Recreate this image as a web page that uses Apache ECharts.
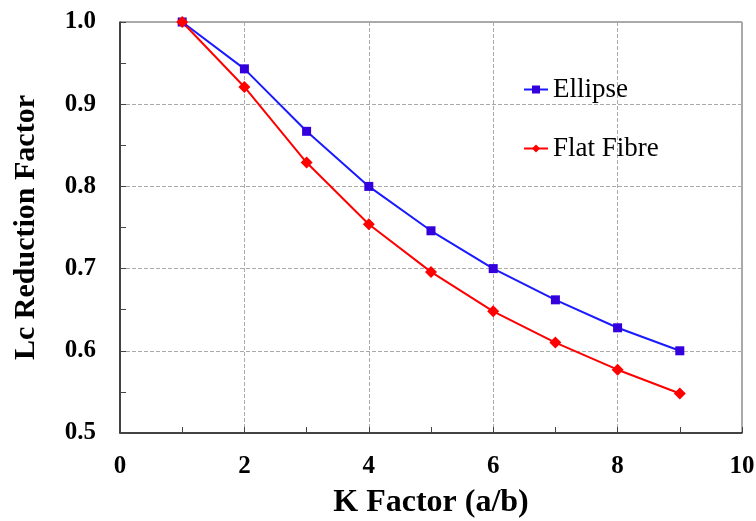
<!DOCTYPE html>
<html>
<head>
<meta charset="utf-8">
<script src="https://cdn.jsdelivr.net/npm/echarts@6/dist/echarts.min.js"></script>
<style>
  html, body { margin: 0; padding: 0; background: #fff; }
  #chart { width: 756px; height: 521px; }
</style>
</head>
<body>
<div id="chart"></div>
<script>
// data
let kFactor = [1, 2, 3, 4, 5, 6, 7, 8, 9];
let ellipse = [1.0, 0.943, 0.867, 0.800, 0.746, 0.700, 0.662, 0.628, 0.600];
let flatFibre = [1.0, 0.921, 0.829, 0.754, 0.696, 0.648, 0.610, 0.577, 0.548];

let font = 'Liberation Serif';

function pairs(xs, ys) {
  return xs.map(function (x, i) { return [x, ys[i]]; });
}

let myChart = echarts.init(document.getElementById('chart'));
let option = {
  animation: false,
  color: ['#3300dd', '#ff0000'],
  grid: {
    left: 120, top: 22, right: 14, bottom: 88,
    outerBoundsMode: 'none',
    show: true, borderColor: '#555', borderWidth: 1
  },
  legend: {
    orient: 'vertical',
    left: 518,
    top: 71,
    itemGap: 32,
    itemWidth: 24,
    itemHeight: 10,
    textStyle: { fontFamily: font, fontSize: 27, color: '#000' },
    data: ['Ellipse', 'Flat Fibre']
  },
  xAxis: {
    type: 'value',
    min: 0, max: 10, interval: 2,
    name: 'K Factor (a/b)',
    nameLocation: 'middle',
    nameGap: 54,
    nameTextStyle: { fontFamily: font, fontSize: 32, fontWeight: 'bold', color: '#000' },
    axisLine: { lineStyle: { color: '#222', width: 1.5 } },
    axisTick: { inside: true, length: 6, lineStyle: { color: '#444' } },
    minorTick: { show: true, splitNumber: 2, length: 6, lineStyle: { color: '#444' } },
    axisLabel: { fontFamily: font, fontSize: 25, fontWeight: 'bold', color: '#000', margin: 21 },
    splitLine: { show: true, lineStyle: { color: '#aaa', type: 'dashed' } }
  },
  yAxis: {
    type: 'value',
    min: 0.5, max: 1.0, interval: 0.1,
    name: 'Lc Reduction Factor',
    nameLocation: 'middle',
    nameGap: 79,
    nameTextStyle: { fontFamily: font, fontSize: 30, fontWeight: 'bold', color: '#000' },
    axisLine: { lineStyle: { color: '#222', width: 1.5 } },
    axisTick: { inside: true, length: 6, lineStyle: { color: '#444' } },
    minorTick: { show: true, splitNumber: 2, length: 6, lineStyle: { color: '#444' } },
    axisLabel: { fontFamily: font, fontSize: 25, fontWeight: 'bold', color: '#000', margin: 24,
      formatter: function (v) { return v.toFixed(1); } },
    splitLine: { show: true, lineStyle: { color: '#aaa', type: 'dashed' } }
  },
  series: [
    {
      name: 'Ellipse',
      type: 'line',
      data: pairs(kFactor, ellipse),
      symbol: 'rect',
      symbolSize: 9,
      lineStyle: { width: 2, color: '#1a1aff' },
      itemStyle: { color: '#3300dd' }
    },
    {
      name: 'Flat Fibre',
      type: 'line',
      data: pairs(kFactor, flatFibre),
      symbol: 'diamond',
      symbolSize: 12,
      lineStyle: { width: 2, color: '#ff0000' },
      itemStyle: { color: '#ff0000' }
    }
  ]
};
myChart.setOption(option);
</script>
</body>
</html>
